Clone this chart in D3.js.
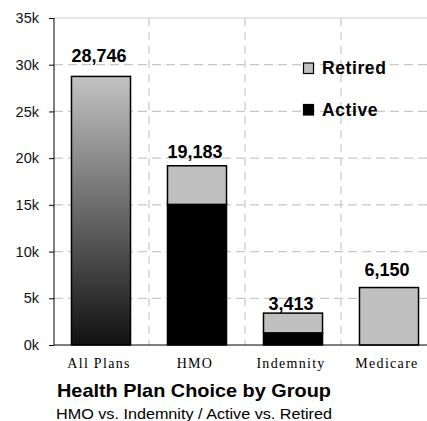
<!DOCTYPE html>
<html>
<head>
<meta charset="utf-8">
<script src="https://cdn.jsdelivr.net/npm/d3@7"></script>
<style>
  html, body { margin: 0; padding: 0; background: #fff; }
  svg { display: block; }
</style>
</head>
<body>
<svg id="chart" width="427" height="421"></svg>
<script>
// Plan groups and enrolment counts
const categories = ["All Plans", "HMO", "Indemnity", "Medicare"];
const totals = [28746, 19183, 3413, 6150];
const activeCounts = [null, 15050, 1300, 0];   // All Plans is drawn as a single total bar
const yTicks = [0, 5000, 10000, 15000, 20000, 25000, 30000, 35000];
const legendItems = ["Retired", "Active"];

// label lift above each bar top (layout)
const labelLift = [14, 8, 3, 12];

const svg = d3.select("#chart");
const plotLeft = 54, plotTop = 18, plotBottom = 345, plotRight = 437;

const x = d3.scaleBand().domain(categories).range([53, plotRight]).padding(0);
const y = d3.scaleLinear().domain([0, 35000]).range([plotBottom, plotTop]);
const barW = x.bandwidth() * 0.615;

const defs = svg.append("defs");
const grad = defs.append("linearGradient")
  .attr("id", "allGrad").attr("x1", 0).attr("y1", 0).attr("x2", 0).attr("y2", 1);
grad.append("stop").attr("offset", "0%").attr("stop-color", "#c2c2c2");
grad.append("stop").attr("offset", "100%").attr("stop-color", "#111");

// grid: horizontal dashed lines
svg.append("g").selectAll("line").data(yTicks.filter(d => d > 0 && d < 35000)).join("line")
  .attr("x1", plotLeft).attr("x2", 427)
  .attr("y1", d => y(d)).attr("y2", d => y(d))
  .attr("stroke", "#c8c8c8").attr("stroke-width", 1.2).attr("stroke-dasharray", "9,5");
// top border
svg.append("line").attr("x1", plotLeft).attr("x2", 427).attr("y1", y(35000)).attr("y2", y(35000))
  .attr("stroke", "#cfcfcf").attr("stroke-width", 1.2);
// vertical dashed lines at category boundaries
svg.append("g").selectAll("line").data(categories.slice(1)).join("line")
  .attr("x1", d => x(d)).attr("x2", d => x(d))
  .attr("y1", plotTop).attr("y2", plotBottom)
  .attr("stroke", "#c8c8c8").attr("stroke-width", 1.2).attr("stroke-dasharray", "8,6");

// bars
const rows = categories.map((c, i) => ({ c, i, total: totals[i], active: activeCounts[i] }));
const bx = d => x(d.c) + (x.bandwidth() - barW) / 2;
const barG = svg.append("g");
rows.forEach(d => {
  if (d.active === null) {
    barG.append("rect").attr("x", bx(d)).attr("width", barW)
      .attr("y", y(d.total)).attr("height", y(0) - y(d.total))
      .attr("fill", "url(#allGrad)").attr("stroke", "#000").attr("stroke-width", 1.5);
  } else {
    if (d.active > 0) {
      barG.append("rect").attr("x", bx(d)).attr("width", barW)
        .attr("y", y(d.active)).attr("height", y(0) - y(d.active))
        .attr("fill", "#000").attr("stroke", "#000").attr("stroke-width", 1.5);
    }
    barG.append("rect").attr("x", bx(d)).attr("width", barW)
      .attr("y", y(d.total)).attr("height", y(d.active) - y(d.total))
      .attr("fill", "#c0c0c0").attr("stroke", "#000").attr("stroke-width", 1.5);
  }
});

// value labels
svg.append("g").selectAll("text").data(rows).join("text")
  .attr("x", d => x(d.c) + x.bandwidth() / 2 - 2)
  .attr("y", d => y(d.total) - labelLift[d.i])
  .attr("text-anchor", "middle")
  .attr("font-family", "Liberation Sans, Arial, sans-serif")
  .attr("font-weight", "bold").attr("font-size", 18).attr("fill", "#000")
  .text(d => d3.format(",")(d.total));

// y axis
const yAxis = svg.append("g").attr("transform", `translate(${plotLeft},0)`)
  .call(d3.axisLeft(y).tickValues(yTicks).tickSize(5).tickPadding(10)
    .tickFormat(d => (d / 1000) + "k"));
yAxis.select(".domain").attr("stroke", "#000").attr("d", `M0,${plotTop}V${plotBottom}`);
yAxis.selectAll(".tick line").attr("stroke", "#000");
yAxis.selectAll(".tick text")
  .attr("font-family", "Liberation Sans, Arial, sans-serif")
  .attr("font-size", 14.5).attr("fill", "#111");

// x axis baseline
svg.append("line").attr("x1", plotLeft).attr("x2", 427).attr("y1", plotBottom).attr("y2", plotBottom)
  .attr("stroke", "#000").attr("stroke-width", 1);

// category labels
svg.append("g").selectAll("text").data(categories).join("text")
  .attr("x", d => x(d) + x.bandwidth() / 2 - 2)
  .attr("y", 368)
  .attr("text-anchor", "middle")
  .attr("font-family", "Liberation Serif, Times New Roman, serif")
  .attr("font-size", 14).attr("letter-spacing", 1.3).attr("fill", "#000")
  .text(d => d);

// legend
const legendColors = ["#c0c0c0", "#000"];
const lg = svg.append("g");
legendItems.forEach((name, i) => {
  const ly = 74 + i * 41.5;
  lg.append("rect").attr("x", 303.5).attr("y", ly - 11).attr("width", 10).attr("height", 10.5)
    .attr("fill", legendColors[i]).attr("stroke", "#000").attr("stroke-width", 1.2);
  lg.append("text").attr("x", 322).attr("y", ly)
    .attr("font-family", "Liberation Sans, Arial, sans-serif")
    .attr("font-weight", "bold").attr("font-size", 17.5).attr("letter-spacing", 0.6)
    .attr("fill", "#000").text(name);
});

// titles
svg.append("text").attr("x", 57).attr("y", 396.5)
  .attr("font-family", "Liberation Sans, Arial, sans-serif")
  .attr("font-weight", "bold").attr("font-size", 19)
  .attr("textLength", 274).attr("lengthAdjust", "spacingAndGlyphs")
  .attr("fill", "#000").text("Health Plan Choice by Group");
svg.append("text").attr("x", 56).attr("y", 419)
  .attr("font-family", "Liberation Sans, Arial, sans-serif")
  .attr("font-size", 14)
  .attr("textLength", 276).attr("lengthAdjust", "spacingAndGlyphs")
  .attr("fill", "#000").text("HMO vs. Indemnity / Active vs. Retired");
</script>
</body>
</html>
